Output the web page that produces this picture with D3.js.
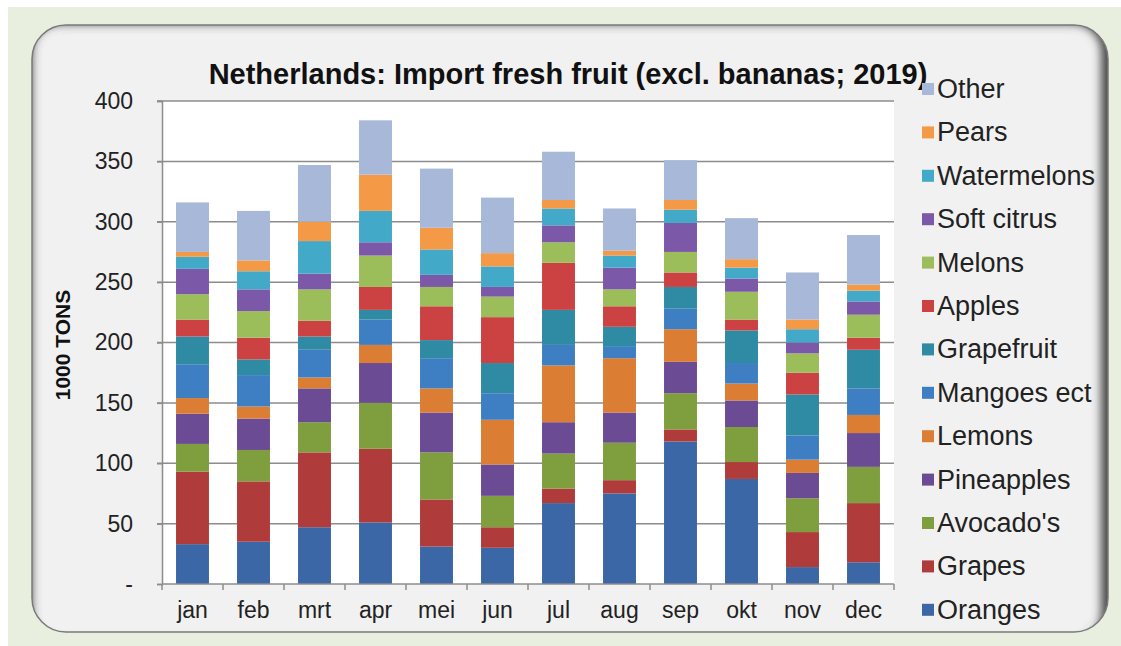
<!DOCTYPE html>
<html>
<head>
<meta charset="utf-8">
<script src="https://cdn.jsdelivr.net/npm/d3@7"></script>
<style>
  body { margin: 0; background: #fff; }
  svg { display: block; font-family: "Liberation Sans", Arial, sans-serif; }
</style>
</head>
<body>
<svg id="chart" width="1121" height="646"></svg>
<script>
// months and series (1000 tons), bottom of stack first
var months = ["jan","feb","mrt","apr","mei","jun","jul","aug","sep","okt","nov","dec"];
var series = ["Oranges","Grapes","Avocado's","Pineapples","Lemons","Mangoes ect","Grapefruit","Apples","Melons","Soft citrus","Watermelons","Pears","Other"];

var oranges     = [33, 35, 47, 51, 31, 30, 67, 75, 118, 87, 14, 18];
var grapes      = [60, 50, 62, 61, 39, 17, 12, 11, 10, 14, 29, 49];
var avocados    = [23, 26, 25, 38, 39, 26, 29, 31, 30, 29, 28, 30];
var pineapples  = [25, 26, 28, 33, 33, 26, 26, 25, 26, 22, 21, 28];
var lemons      = [13, 10, 9, 15, 20, 37, 47, 45, 27, 14, 11, 15];
var mangoes     = [28, 26, 23, 21, 25, 22, 17, 10, 17, 17, 20, 22];
var grapefruit  = [23, 13, 11, 8, 15, 25, 29, 16, 18, 27, 34, 32];
var apples      = [14, 18, 13, 19, 28, 38, 39, 17, 12, 9, 18, 10];
var melons      = [21, 22, 26, 26, 16, 17, 17, 14, 17, 23, 16, 19];
var softCitrus  = [21, 18, 13, 11, 10, 8, 14, 18, 24, 11, 9, 11];
var watermelons = [10, 15, 27, 26, 21, 17, 14, 10, 11, 9, 11, 9];
var pears       = [4, 9, 16, 30, 18, 11, 7, 4, 8, 7, 8, 5];
var other       = [41, 41, 47, 45, 49, 46, 40, 35, 33, 34, 39, 41];

var colors = ["#3b67a6","#b03b3b","#7f9e3e","#6b4b94","#dc7d34","#3e7fc4","#2f8aa3","#cc4242","#9bbd5a","#7c58a8","#43a9c9","#f49945","#a7b8d9"];
var yTicks = [0, 50, 100, 150, 200, 250, 300, 350, 400];

var values = [oranges, grapes, avocados, pineapples, lemons, mangoes, grapefruit, apples, melons, softCitrus, watermelons, pears, other];
var rows = months.map(function(m, i) {
  var r = {month: m};
  series.forEach(function(s, j) { r[s] = values[j][i]; });
  return r;
});

var svg = d3.select("#chart");
var W = 1121, H = 646;
var plot = {left: 162, right: 894, top: 101, bottom: 584};

// background
svg.append("rect").attr("x", 8).attr("y", 7).attr("width", W - 8).attr("height", H - 7).attr("fill", "#e8efdf");

var defs = svg.append("defs");
defs.append("clipPath").attr("id", "panelClip")
  .append("rect").attr("x", 32).attr("y", 25).attr("width", 1076).attr("height", 607).attr("rx", 34);
var blur = defs.append("filter").attr("id", "blur").attr("x", "-10%").attr("y", "-10%").attr("width", "120%").attr("height", "120%");
blur.append("feGaussianBlur").attr("stdDeviation", 5);

svg.append("rect").attr("x", 32).attr("y", 25).attr("width", 1076).attr("height", 607).attr("rx", 34)
  .attr("fill", "#f1f1f1");
// inner shadow on top and right
svg.append("g").attr("clip-path", "url(#panelClip)")
  .append("rect").attr("x", 20).attr("y", 12).attr("width", 1093).attr("height", 641).attr("rx", 40)
  .attr("fill", "none").attr("stroke", "#4a4a4a").attr("stroke-width", 24).attr("filter", "url(#blur)");
svg.append("rect").attr("x", 32).attr("y", 25).attr("width", 1076).attr("height", 607).attr("rx", 34)
  .attr("fill", "none").attr("stroke", "#7a7a7a").attr("stroke-width", 1.5);

// plot area
svg.append("rect").attr("x", plot.left).attr("y", plot.top)
  .attr("width", plot.right - plot.left).attr("height", plot.bottom - plot.top).attr("fill", "#fff");

var x = d3.scaleBand().domain(months).range([plot.left, plot.right]).paddingInner(0.46).paddingOuter(0.23);
var y = d3.scaleLinear().domain([0, 400]).range([plot.bottom, plot.top]);

// gridlines
svg.append("g").selectAll("line").data(yTicks.slice(1)).enter().append("line")
  .attr("x1", plot.left - 5).attr("x2", plot.right)
  .attr("y1", function(d) { return y(d); }).attr("y2", function(d) { return y(d); })
  .attr("stroke", "#8c8c8c").attr("stroke-width", 1.5);

var stack = d3.stack().keys(series)(rows);

svg.append("g").selectAll("g").data(stack).enter().append("g")
  .attr("fill", function(d, i) { return colors[i]; })
  .selectAll("rect").data(function(d) { return d; }).enter().append("rect")
  .attr("x", function(d) { return x(d.data.month); })
  .attr("width", x.bandwidth())
  .attr("y", function(d) { return y(d[1]); })
  .attr("height", function(d) { return y(d[0]) - y(d[1]); });

// axes
var yAxis = svg.append("g").attr("transform", "translate(" + plot.left + ",0)")
  .call(d3.axisLeft(y).tickValues(yTicks).tickSize(5).tickPadding(24)
    .tickFormat(function(d) { return d === 0 ? "-" : d; }));
yAxis.select(".domain").attr("stroke", "#8c8c8c").attr("stroke-width", 1.5);
yAxis.selectAll(".tick line").attr("stroke", "#8c8c8c").attr("stroke-width", 1.5);
yAxis.selectAll(".tick text").attr("font-size", 23).attr("fill", "#222")
  .attr("font-family", "'Liberation Sans', Arial, sans-serif");

var xAxis = svg.append("g").attr("transform", "translate(0," + plot.bottom + ")")
  .call(d3.axisBottom(x).tickSize(0).tickPadding(18));
xAxis.select(".domain").remove();
xAxis.selectAll(".tick text").attr("font-size", 23).attr("fill", "#222")
  .attr("font-family", "'Liberation Sans', Arial, sans-serif");
svg.append("line").attr("x1", plot.left).attr("x2", plot.right).attr("y1", plot.bottom).attr("y2", plot.bottom)
  .attr("stroke", "#8c8c8c").attr("stroke-width", 1.5);
var step = x.step();
svg.append("g").selectAll("line").data(d3.range(13)).enter().append("line")
  .attr("x1", function(i) { return plot.left + i * step; }).attr("x2", function(i) { return plot.left + i * step; })
  .attr("y1", plot.bottom).attr("y2", plot.bottom + 6)
  .attr("stroke", "#8c8c8c").attr("stroke-width", 1.5);

// y label
svg.append("text").attr("transform", "translate(70,345) rotate(-90)")
  .attr("text-anchor", "middle").attr("font-size", 21).attr("font-weight", "bold").attr("fill", "#111")
  .text("1000 TONS");

// title
svg.append("text").attr("x", 568).attr("y", 84).attr("text-anchor", "middle")
  .attr("font-size", 29).attr("font-weight", "bold").attr("fill", "#111")
  .text("Netherlands: Import fresh fruit (excl. bananas; 2019)");

// legend, top entry is the top of the stack
var legendItems = series.slice().reverse();
var legend = svg.append("g").selectAll("g").data(legendItems).enter().append("g")
  .attr("transform", function(d, i) { return "translate(922," + (98 + i * 43.4) + ")"; });
legend.append("rect").attr("x", 0).attr("y", -15).attr("width", 12).attr("height", 12)
  .attr("fill", function(d) { return colors[series.indexOf(d)]; });
legend.append("text").attr("x", 15).attr("y", 0).attr("font-size", 27).attr("fill", "#222")
  .text(function(d) { return d; });
</script>
</body>
</html>
